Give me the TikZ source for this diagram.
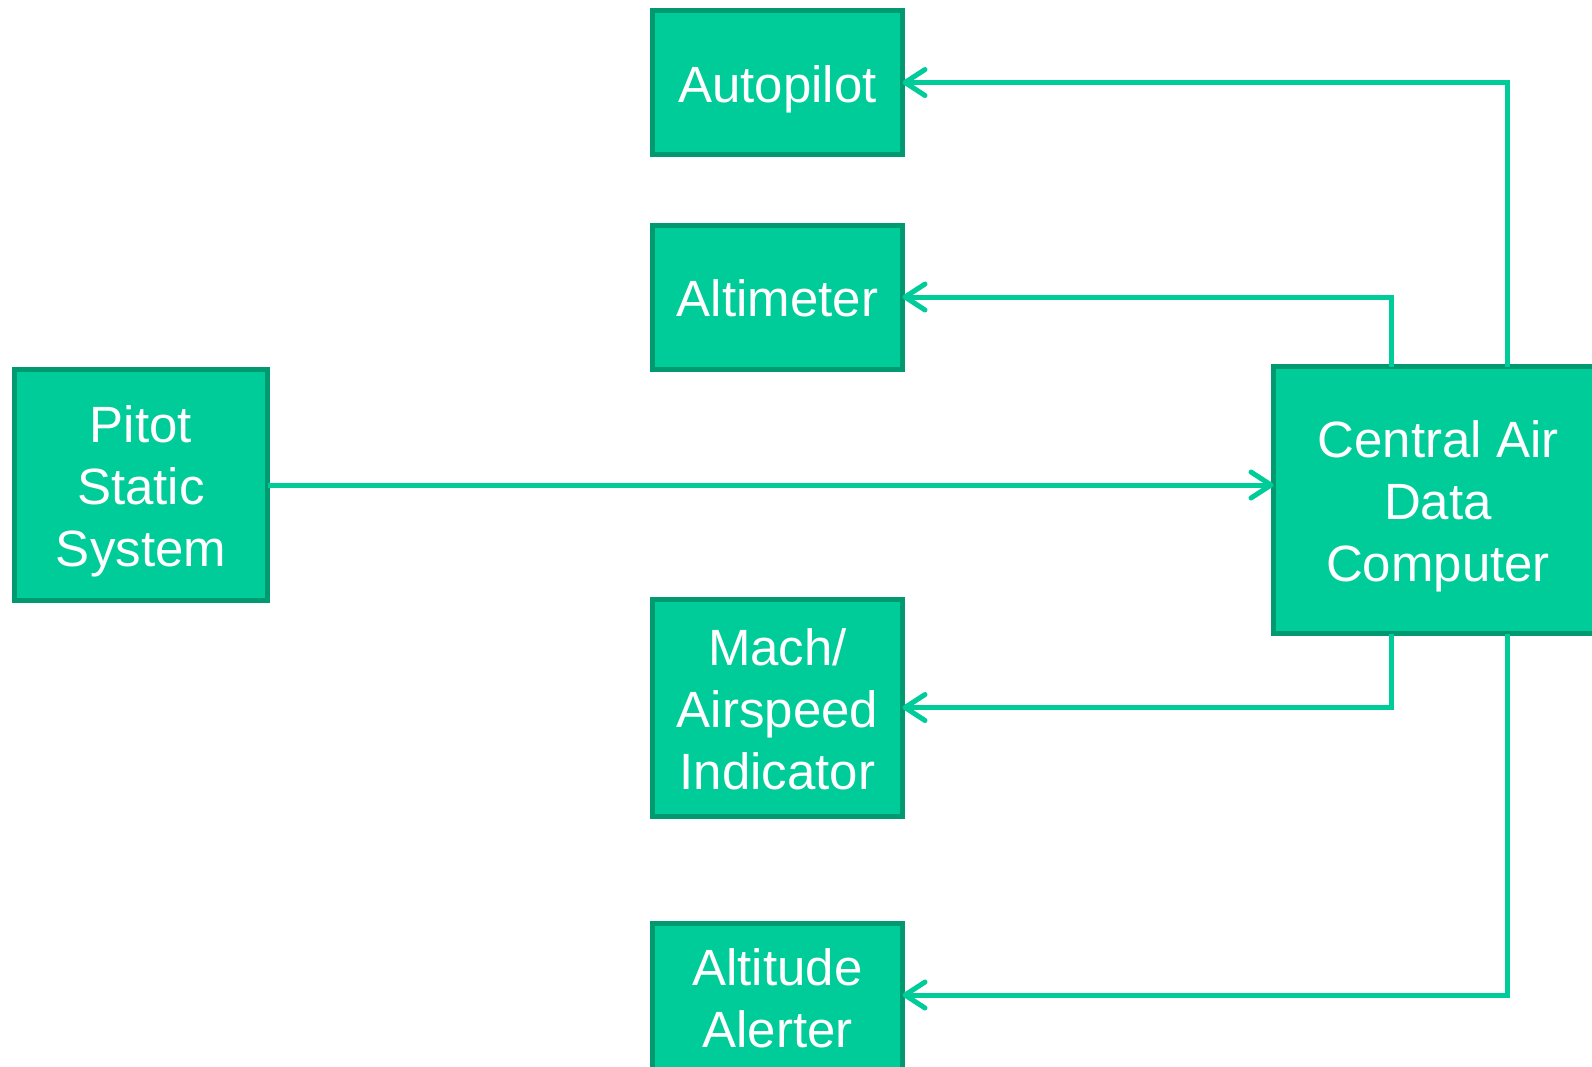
\documentclass[tikz,border=0pt]{standalone}
\usepackage{fontspec}
\setmainfont{Liberation Sans}
\usetikzlibrary{arrows.meta}
\definecolor{boxfill}{RGB}{0,204,153}
\definecolor{boxline}{RGB}{0,153,112}
\definecolor{linkcol}{RGB}{0,204,153}
\newcommand\tstrut{\rule[-11pt]{0pt}{61pt}}
\tikzset{
  blk/.style={draw=boxline, fill=boxfill, line width=5pt, text=white,
    align=center, inner sep=0pt, outer sep=0pt,
    font=\fontsize{51}{62}\selectfont},
  link/.style={draw=linkcol, line width=5pt,
    -{Straight Barb[length=20pt,width=26pt,round]}}
}
\begin{document}
\begin{tikzpicture}[x=1pt,y=-1pt]
\useasboundingbox (0,0) rectangle (1592,1066);
\clip (0,0) rectangle (1592,1066);
\node[blk, minimum width=250pt, minimum height=144pt] (autopilot) at (777.5,82.5) {\tstrut Autopilot};
\node[blk, minimum width=250pt, minimum height=144pt] (altimeter) at (777.5,297) {\tstrut Altimeter};
\node[blk, minimum width=250pt, minimum height=217pt] (mach) at (777.5,707.5) {\tstrut Mach/\\Airspeed\\Indicator\tstrut};
\node[blk, minimum width=250pt, minimum height=146pt] (alerter) at (777.5,996.5) {\tstrut Altitude\\Alerter\tstrut};
\node[blk, minimum width=253pt, minimum height=231pt] (pitot) at (141,485) {\tstrut Pitot\\Static\\System\tstrut};
\node[blk, minimum width=329pt, minimum height=267pt] (cadc) at (1438,500) {\tstrut Central Air\\Data\\Computer\tstrut};
\draw[link] (pitot.east) -- (pitot.east -| cadc.west);
\draw[link] ([xshift=69pt]cadc.north) |- (autopilot.east);
\draw[link] ([xshift=-47pt]cadc.north) |- (altimeter.east);
\draw[link] ([xshift=-47pt]cadc.south) |- (mach.east);
\draw[link] ([xshift=69pt]cadc.south) |- ([yshift=1.5pt]alerter.east);
\end{tikzpicture}
\end{document}
